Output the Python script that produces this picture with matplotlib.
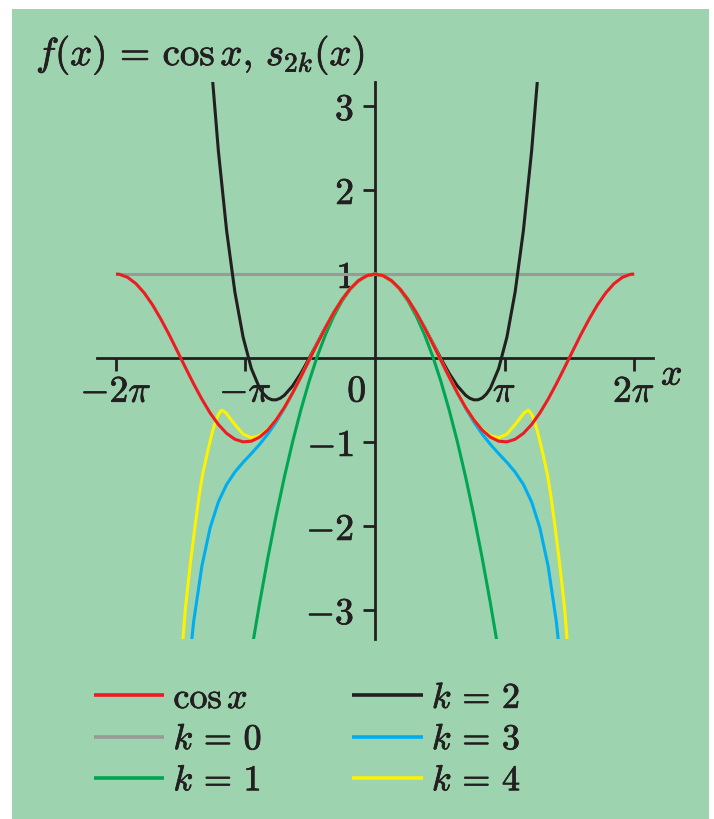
import numpy as np
import matplotlib.pyplot as plt
import matplotlib.patheffects as pe
from matplotlib.patches import Rectangle

plt.rcParams['mathtext.fontset'] = 'cm'

BG = '#9dd3ae'
INK = '#231f20'

# Right half (x >= 0) of each even curve; the left half is its mirror image.
cos_x = [0.0, 0.2, 0.4, 0.6, 0.8, 1.0, 1.2, 1.4, 1.6, 1.8, 2.0, 2.2, 2.4, 2.6, 2.8,
         3.0, 3.2, 3.4, 3.6, 3.8, 4.0, 4.2, 4.4, 4.6, 4.8, 5.0, 5.2, 5.4, 5.6, 5.8,
         6.0, 6.2, 6.283]
cos_y = [1.0, 0.98, 0.921, 0.825, 0.697, 0.54, 0.362, 0.17, -0.029, -0.227, -0.416,
         -0.589, -0.737, -0.857, -0.942, -0.99, -0.998, -0.967, -0.897, -0.791, -0.654,
         -0.49, -0.307, -0.112, 0.087, 0.284, 0.468, 0.635, 0.776, 0.886, 0.96, 0.997, 1.0]

k0_x = [0.0, 6.283]
k0_y = [1.0, 1.0]

k1_x = [0.0, 0.2, 0.4, 0.6, 0.8, 1.0, 1.2, 1.4, 1.6, 1.8, 2.0, 2.2, 2.4, 2.6, 2.8, 3.0]
k1_y = [1.0, 0.98, 0.92, 0.82, 0.68, 0.5, 0.28, 0.02, -0.28, -0.62, -1.0, -1.42,
        -1.88, -2.38, -2.92, -3.5]

k2_x = [0.0, 0.2, 0.4, 0.6, 0.8, 1.0, 1.2, 1.4, 1.6, 1.8, 2.0, 2.2, 2.3, 2.4, 2.5,
        2.6, 2.7, 2.8, 3.0, 3.2, 3.4, 3.6, 3.8, 4.0]
k2_y = [1.0, 0.98, 0.921, 0.825, 0.697, 0.542, 0.366, 0.18, -0.007, -0.183, -0.333,
        -0.444, -0.479, -0.498, -0.497, -0.476, -0.43, -0.359, -0.125, 0.249, 0.788,
        1.518, 2.468, 3.667]

k3_x = [0.0, 0.2, 0.4, 0.6, 0.8, 1.0, 1.2, 1.4, 1.6, 1.8, 2.0, 2.2, 2.4, 2.6, 2.8,
        3.0, 3.2, 3.4, 3.6, 3.8, 4.0, 4.2, 4.4, 4.6]
k3_y = [1.0, 0.98, 0.921, 0.825, 0.697, 0.54, 0.362, 0.17, -0.03, -0.23, -0.422,
        -0.601, -0.763, -0.905, -1.028, -1.138, -1.242, -1.358, -1.505, -1.714, -2.022,
        -2.478, -3.141, -4.083]

k4_x = [0.0, 0.2, 0.4, 0.6, 0.8, 1.0, 1.2, 1.4, 1.6, 1.8, 2.0, 2.2, 2.4, 2.6, 2.8,
        3.0, 3.2, 3.35, 3.5, 3.62, 3.72, 3.8, 3.88, 3.95, 4.02, 4.1, 4.18, 4.26, 4.36,
        4.48, 4.6, 4.7]
k4_y = [1.0, 0.98, 0.921, 0.825, 0.697, 0.54, 0.362, 0.17, -0.029, -0.227, -0.416,
        -0.587, -0.736, -0.85, -0.925, -0.95, -0.905, -0.82, -0.73, -0.65, -0.62, -0.67,
        -0.77, -0.89, -1.03, -1.2, -1.38, -1.62, -1.98, -2.45, -2.98, -3.6]

curve_labels = [r'$\cos x$', r'$k\,=\,0$', r'$k\,=\,1$', r'$k\,=\,2$', r'$k\,=\,3$', r'$k\,=\,4$']
curve_colors = ['#ed1c24', '#999999', '#00a651', '#231f20', '#00aeef', '#fff200']

x_ticks = [-2 * np.pi, -np.pi, np.pi, 2 * np.pi]
x_tick_labels = [r'$-2\pi$', r'$-\pi$', r'$\pi$', r'$2\pi$']
y_ticks = [-3, -2, -1, 1, 2, 3]
y_tick_labels = [r'$-3$', r'$-2$', r'$-1$', r'$1$', r'$2$', r'$3$']

# slightly heavier glyphs than the plain cm outlines
BOLDEN = [pe.withStroke(linewidth=0.55, foreground=INK)]


def mirror(xs, ys):
    xs_full = [-v for v in reversed(xs[1:])] + list(xs)
    ys_full = list(reversed(ys[1:])) + list(ys)
    return xs_full, ys_full


fig = plt.figure(figsize=(7.14, 8.2), dpi=100)
fig.patch.set_facecolor('white')
fig.add_artist(Rectangle((12 / 714, 0), 697 / 714, 810 / 820, transform=fig.transFigure,
                         facecolor=BG, edgecolor='none', zorder=-10))

ax = fig.add_axes([97 / 714, 180 / 820, 556 / 714, 557 / 820])
ax.set_facecolor('none')

curves = [(cos_x, cos_y), (k0_x, k0_y), (k1_x, k1_y), (k2_x, k2_y), (k3_x, k3_y), (k4_x, k4_y)]
lines = {}
# polynomials first, cos x last so it sits on top
draw_order = [1, 2, 3, 4, 5, 0]
for z, i in enumerate(draw_order):
    xs, ys = mirror(*curves[i])
    ln, = ax.plot(xs, ys, color=curve_colors[i], lw=2.2, label=curve_labels[i],
                  zorder=3 + z, solid_capstyle='butt')
    lines[i] = ln
handles = [lines[i] for i in range(len(curves))]

ax.set_xlim(-6.744, 6.744)
ax.set_ylim(-3.345, 3.286)

for side in ['top', 'right']:
    ax.spines[side].set_visible(False)
for side in ['left', 'bottom']:
    ax.spines[side].set_position(('data', 0))
    ax.spines[side].set_linewidth(2.0)
    ax.spines[side].set_color(INK)

ax.set_xticks(x_ticks)
ax.set_xticklabels(x_tick_labels)
ax.set_yticks(y_ticks)
ax.set_yticklabels(y_tick_labels)
ax.tick_params(axis='x', direction='out', length=9.4, width=2.0, pad=2,
               labelsize=27, color=INK, labelcolor=INK)
ax.tick_params(axis='y', direction='out', length=9.0, width=2.0, pad=6,
               labelsize=27, color=INK, labelcolor=INK)
for t in ax.get_xticklabels() + ax.get_yticklabels():
    t.set_path_effects(BOLDEN)

ax.annotate(r'$0$', xy=(0, 0), xytext=(-13, -24), textcoords='offset points',
            ha='center', va='center', fontsize=27, color=INK, path_effects=BOLDEN)
ax.text(1.034, -0.2, r'$x$', transform=ax.get_yaxis_transform(),
        ha='center', va='center', fontsize=27, color=INK, path_effects=BOLDEN)

fig.text(36 / 714, 1 - 56 / 820, r'$f(x)\,=\,\cos x,\,s_{2k}(x)$',
         ha='left', va='center', fontsize=28, color=INK, path_effects=BOLDEN)

leg = ax.legend(handles, curve_labels, ncol=2, loc='upper left',
                bbox_to_anchor=(94 / 714, 1 - 682 / 820), bbox_transform=fig.transFigure,
                frameon=False, fontsize=26, handlelength=1.95, handletextpad=0.25,
                columnspacing=2.5, labelspacing=0.2, borderpad=0, borderaxespad=0)
for t in leg.get_texts():
    t.set_color(INK)
    t.set_path_effects(BOLDEN)
for h in leg.legend_handles:
    h.set_linewidth(2.6)

fig.savefig('out.png', dpi=100)
